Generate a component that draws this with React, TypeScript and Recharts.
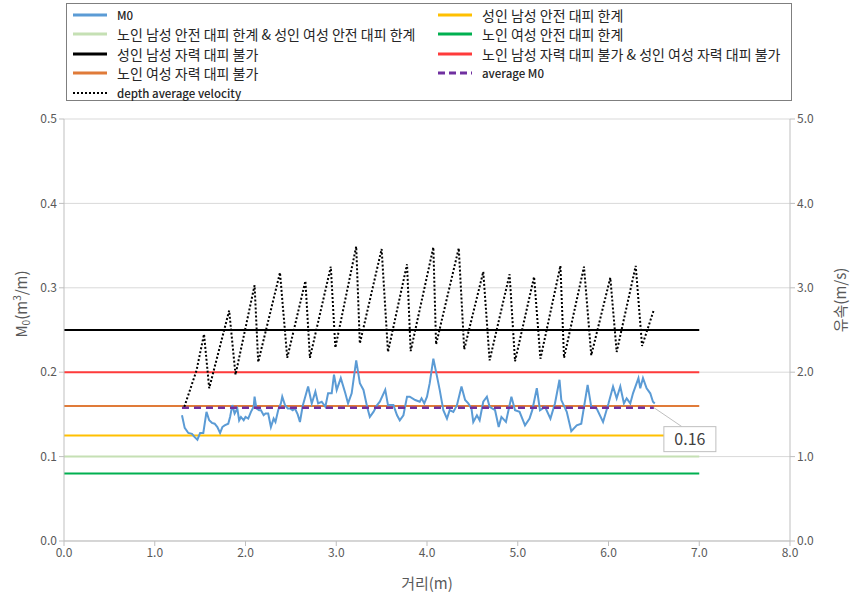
import React from "react";
import { ComposedChart, Line, XAxis, YAxis, CartesianGrid, LabelList } from "recharts";

// M0 series: distance (m) and momentum value (m3/m)
const m0Dist = [
  1.3, 1.33, 1.37, 1.41, 1.44, 1.47, 1.5, 1.535, 1.57, 1.6, 1.63, 1.66, 1.69, 1.72, 1.745, 1.77, 1.81, 1.83,
  1.855, 1.88, 1.91, 1.93, 1.95, 1.98, 2.0, 2.03, 2.06, 2.09, 2.1, 2.12, 2.15, 2.17, 2.2, 2.22, 2.25, 2.28,
  2.31, 2.33, 2.36, 2.39, 2.405, 2.435, 2.465, 2.49, 2.52, 2.545, 2.575, 2.6, 2.63, 2.69, 2.73, 2.77, 2.8,
  2.84, 2.88, 2.91, 2.95, 2.975, 3.005, 3.05, 3.1, 3.13, 3.17, 3.22, 3.26, 3.3, 3.34, 3.37, 3.41, 3.45, 3.48,
  3.54, 3.57, 3.63, 3.67, 3.7, 3.74, 3.78, 3.81, 3.87, 3.92, 3.94, 3.97, 4.0, 4.03, 4.07, 4.11, 4.14, 4.18,
  4.22, 4.25, 4.29, 4.33, 4.38, 4.42, 4.455, 4.49, 4.51, 4.55, 4.58, 4.62, 4.66, 4.69, 4.75, 4.79, 4.82,
  4.87, 4.93, 4.97, 5.02, 5.08, 5.13, 5.16, 5.21, 5.245, 5.3, 5.36, 5.41, 5.46, 5.48, 5.54, 5.59, 5.65, 5.7,
  5.77, 5.81, 5.87, 5.94, 6.0, 6.05, 6.09, 6.13, 6.17, 6.2, 6.24, 6.27, 6.33, 6.35, 6.38, 6.42, 6.46, 6.49, 6.51,
];
const m0Value = [
  0.149, 0.134, 0.128, 0.127, 0.123, 0.12, 0.128, 0.128, 0.153, 0.143, 0.14, 0.139, 0.135, 0.128, 0.135, 0.137, 0.139, 0.147,
  0.161, 0.151, 0.157, 0.143, 0.147, 0.143, 0.147, 0.145, 0.153, 0.159, 0.171, 0.157, 0.155, 0.155, 0.149, 0.151, 0.151, 0.135,
  0.145, 0.141, 0.155, 0.163, 0.171, 0.161, 0.157, 0.157, 0.155, 0.157, 0.15, 0.141, 0.16, 0.183, 0.163, 0.177, 0.163,
  0.165, 0.159, 0.175, 0.175, 0.197, 0.179, 0.193, 0.175, 0.163, 0.175, 0.214, 0.187, 0.179, 0.159, 0.147, 0.153, 0.161, 0.165,
  0.179, 0.161, 0.161, 0.149, 0.143, 0.149, 0.171, 0.171, 0.167, 0.165, 0.169, 0.163, 0.171, 0.187, 0.216, 0.195, 0.179, 0.155,
  0.145, 0.155, 0.153, 0.161, 0.183, 0.167, 0.163, 0.157, 0.141, 0.149, 0.143, 0.165, 0.171, 0.159, 0.155, 0.135, 0.147,
  0.141, 0.171, 0.155, 0.153, 0.137, 0.145, 0.155, 0.181, 0.155, 0.159, 0.145, 0.163, 0.191, 0.167, 0.153, 0.13, 0.137, 0.139,
  0.185, 0.159, 0.157, 0.141, 0.163, 0.183, 0.169, 0.183, 0.163, 0.169, 0.163, 0.175, 0.193, 0.181, 0.193, 0.181, 0.175, 0.165, 0.163,
];

// depth average velocity (m/s)
const velDist = [
  1.326, 1.46, 1.543, 1.6, 1.82, 1.89, 2.1, 2.14, 2.38, 2.46, 2.66, 2.71, 2.94, 2.99, 3.22, 3.26, 3.5, 3.57, 3.78,
  3.82, 4.07, 4.1, 4.35, 4.41, 4.62, 4.69, 4.91, 4.97, 5.18, 5.25, 5.47, 5.51, 5.73, 5.81, 6.02, 6.09, 6.3, 6.37, 6.5,
];
const velValue = [
  1.59, 2.02, 2.45, 1.81, 2.73, 1.97, 3.03, 2.12, 3.18, 2.17, 3.08, 2.17, 3.25, 2.29, 3.49, 2.34, 3.46, 2.24, 3.28,
  2.25, 3.48, 2.33, 3.47, 2.27, 3.19, 2.14, 3.16, 2.13, 3.13, 2.16, 3.26, 2.17, 3.25, 2.2, 3.12, 2.24, 3.26, 2.31, 2.74,
];

// threshold lines
const limitNames = [
  "성인 남성 안전 대피 한계",
  "노인 남성 안전 대피 한계 & 성인 여성 안전 대피 한계",
  "노인 여성 안전 대피 한계",
  "성인 남성 자력 대피 불가",
  "노인 남성 자력 대피 불가 & 성인 여성 자력 대피 불가",
  "노인 여성 자력 대피 불가",
];
const limitValues = [0.125, 0.1, 0.08, 0.25, 0.2, 0.16];
const limitRange = [0, 7];
const limitColors = ["#FFC000", "#C5E0B4", "#00B050", "#000000", "#FF3B3B", "#E07B39"];

const avgM0 = 0.158;
const avgRange = [1.3, 6.5];

const xTicks = [0, 1, 2, 3, 4, 5, 6, 7, 8];
const mTicks = [0, 0.1, 0.2, 0.3, 0.4, 0.5];
const vTicks = [0, 1, 2, 3, 4, 5];

const m0Data = m0Dist.map((x, i) => ({ x, y: m0Value[i] }));
const velData = velDist.map((x, i) => ({ x, y: velValue[i] }));
const limitData = limitValues.map((v) => limitRange.map((x) => ({ x, y: v })));
const avgData = avgRange.map((x) => ({ x, y: avgM0 }));

const FONT = "'Noto Sans CJK KR', 'Noto Sans', sans-serif";
const GRAY = "#595959";

type LegendItem = { label: string; color: string; dash?: string; latin?: boolean; width?: number };

const legendItems: LegendItem[] = [
  { label: "M0", color: "#5B9BD5", latin: true },
  { label: limitNames[0], color: limitColors[0] },
  { label: limitNames[1], color: limitColors[1] },
  { label: limitNames[2], color: limitColors[2] },
  { label: limitNames[3], color: limitColors[3] },
  { label: limitNames[4], color: limitColors[4] },
  { label: limitNames[5], color: limitColors[5] },
  { label: "average  M0", color: "#7030A0", dash: "7 4", latin: true },
  { label: "depth average velocity", color: "#000000", dash: "2 2", latin: true, width: 2 },
];

function LegendSymbol({ item }: { item: LegendItem }) {
  return (
    <svg width={34} height={6} style={{ marginRight: 10, flex: "none" }}>
      <line
        x1={0}
        y1={3}
        x2={34}
        y2={3}
        stroke={item.color}
        strokeWidth={item.width ?? 3}
        strokeDasharray={item.dash}
      />
    </svg>
  );
}

function AvgLabel(props: any) {
  const { x, y, index, value } = props;
  if (index !== avgData.length - 1) return null;
  return (
    <g>
      <line x1={x} y1={y} x2={x + 28} y2={y + 19} stroke="#bfbfbf" strokeWidth={1} />
      <rect x={x + 10} y={y + 19} width={52} height={25} fill="#fff" stroke="#bfbfbf" />
      <text x={x + 36} y={y + 37} textAnchor="middle" fontSize={16} fill="#404040" fontFamily={FONT}>
        {Number(value).toFixed(2)}
      </text>
    </g>
  );
}

function LeftTitle(props: any) {
  const { viewBox } = props;
  const cx = viewBox.x + 27;
  const cy = viewBox.y + viewBox.height / 2 - 26;
  return (
    <text
      x={cx}
      y={cy}
      transform={`rotate(-90, ${cx}, ${cy})`}
      textAnchor="middle"
      fontSize={15}
      fill={GRAY}
      fontFamily={FONT}
    >
      M<tspan fontSize={10} dy={3}>0</tspan>
      <tspan dy={-3}>(m</tspan>
      <tspan fontSize={10} dy={-6}>3</tspan>
      <tspan dy={6}>/m)</tspan>
    </text>
  );
}

function RightTitle(props: any) {
  const { viewBox } = props;
  const cx = viewBox.x + 56;
  const cy = viewBox.y + viewBox.height / 2 - 30;
  return (
    <text
      x={cx}
      y={cy}
      transform={`rotate(-90, ${cx}, ${cy})`}
      textAnchor="middle"
      fontSize={15}
      fill={GRAY}
      fontFamily={FONT}
    >
      유속(m/s)
    </text>
  );
}

const tickStyle = { fontSize: 12, fill: GRAY, fontFamily: FONT };

export default function App() {
  return (
    <div
      style={{
        position: "absolute",
        left: 0,
        top: 0,
        width: 854,
        height: 596,
        background: "#fff",
        fontFamily: FONT,
      }}
    >
      <ComposedChart width={854} height={596} margin={{ top: 119, right: 0, bottom: 25, left: 0 }}>
        <CartesianGrid vertical={false} stroke="#d9d9d9" yAxisId="m" />
        <XAxis
          type="number"
          dataKey="x"
          domain={[0, 8]}
          ticks={xTicks}
          tickFormatter={(v) => v.toFixed(1)}
          tick={tickStyle}
          stroke="#bfbfbf"
          tickSize={5}
          height={30}
          label={{ value: "거리(m)", position: "insideBottom", offset: -18, fontSize: 15, fill: GRAY, fontFamily: FONT }}
        />
        <YAxis
          yAxisId="m"
          type="number"
          domain={[0, 0.5]}
          ticks={mTicks}
          tickFormatter={(v) => v.toFixed(1)}
          tick={tickStyle}
          stroke="#bfbfbf"
          tickSize={5}
          width={64}
          label={<LeftTitle />}
        />
        <YAxis
          yAxisId="v"
          orientation="right"
          type="number"
          domain={[0, 5]}
          ticks={vTicks}
          tickFormatter={(v) => v.toFixed(1)}
          tick={tickStyle}
          stroke="#bfbfbf"
          tickSize={5}
          width={64}
          label={<RightTitle />}
        />
        {limitData.map((d, i) => (
          <Line
            key={limitNames[i]}
            yAxisId="m"
            data={d}
            dataKey="y"
            stroke={limitColors[i]}
            strokeWidth={2}
            dot={false}
            isAnimationActive={false}
          />
        ))}
        <Line
          yAxisId="m"
          data={m0Data}
          dataKey="y"
          stroke="#5B9BD5"
          strokeWidth={2}
          dot={false}
          isAnimationActive={false}
        />
        <Line
          yAxisId="m"
          data={avgData}
          dataKey="y"
          stroke="#7030A0"
          strokeWidth={2.5}
          strokeDasharray="7 5"
          dot={false}
          isAnimationActive={false}
        >
          <LabelList dataKey="y" content={<AvgLabel />} />
        </Line>
        <Line
          yAxisId="v"
          data={velData}
          dataKey="y"
          stroke="#000000"
          strokeWidth={2}
          strokeDasharray="2 2"
          dot={false}
          isAnimationActive={false}
        />
      </ComposedChart>

      <div
        style={{
          position: "absolute",
          left: 66,
          top: 3,
          width: 726,
          height: 98,
          border: "1px solid #7f7f7f",
          boxSizing: "border-box",
          display: "grid",
          gridTemplateColumns: "365px 355px",
          gridAutoRows: "19.5px",
          paddingTop: 1,
          paddingLeft: 6,
        }}
      >
        {legendItems.map((item) => (
          <div key={item.label} style={{ display: "flex", alignItems: "center", whiteSpace: "nowrap" }}>
            <LegendSymbol item={item} />
            <span
              style={{
                fontSize: item.latin ? 11.5 : 14,
                fontWeight: item.latin ? 500 : 400,
                color: "#262626",
              }}
            >
              {item.label}
            </span>
          </div>
        ))}
      </div>
    </div>
  );
}
